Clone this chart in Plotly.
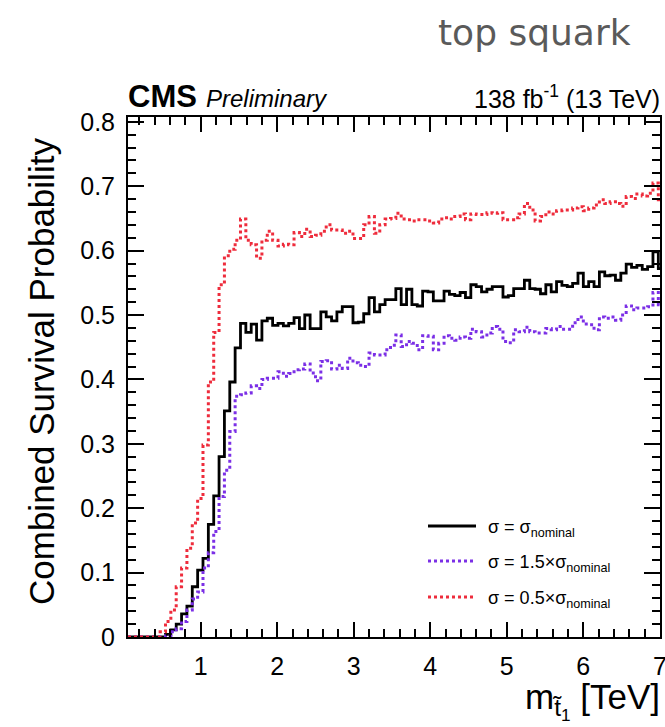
import numpy as np
import plotly.graph_objects as go

# ---- data ----
bin_start = 0.05      # TeV, first bin low edge
bin_width = 0.07      # TeV
n_bins = 100

nominal = [0, 0, 0, 0, 0, 0, 0, 0.004, 0.011, 0.020,
           0.036, 0.048, 0.078, 0.104, 0.122, 0.175, 0.219, 0.280, 0.351, 0.396,
           0.449, 0.487, 0.473, 0.486, 0.461, 0.491, 0.495, 0.484, 0.487, 0.483,
           0.487, 0.496, 0.479, 0.500, 0.479, 0.479, 0.505, 0.497, 0.491, 0.505,
           0.513, 0.513, 0.488, 0.489, 0.502, 0.527, 0.505, 0.516, 0.524, 0.524,
           0.541, 0.516, 0.540, 0.516, 0.514, 0.537, 0.536, 0.522, 0.522, 0.537,
           0.532, 0.530, 0.535, 0.527, 0.547, 0.544, 0.536, 0.540, 0.544, 0.544,
           0.528, 0.530, 0.541, 0.541, 0.554, 0.541, 0.540, 0.533, 0.547, 0.536,
           0.552, 0.546, 0.544, 0.549, 0.565, 0.544, 0.552, 0.544, 0.567, 0.561,
           0.562, 0.554, 0.565, 0.579, 0.574, 0.577, 0.571, 0.575, 0.598, 0.572]

x1p5 = [0, 0, 0, 0, 0, 0, 0, 0.002, 0.008, 0.013,
        0.024, 0.042, 0.059, 0.070, 0.107, 0.131, 0.164, 0.218, 0.259, 0.319,
        0.374, 0.376, 0.379, 0.390, 0.386, 0.400, 0.402, 0.402, 0.412, 0.405,
        0.409, 0.415, 0.416, 0.424, 0.410, 0.398, 0.428, 0.429, 0.416, 0.422,
        0.417, 0.433, 0.426, 0.422, 0.420, 0.441, 0.438, 0.438, 0.446, 0.453,
        0.469, 0.451, 0.459, 0.456, 0.446, 0.468, 0.467, 0.446, 0.456, 0.468,
        0.464, 0.461, 0.466, 0.464, 0.478, 0.474, 0.466, 0.472, 0.482, 0.478,
        0.459, 0.457, 0.477, 0.474, 0.481, 0.474, 0.472, 0.472, 0.479, 0.477,
        0.482, 0.478, 0.478, 0.488, 0.497, 0.486, 0.485, 0.477, 0.497, 0.495,
        0.497, 0.492, 0.500, 0.514, 0.508, 0.511, 0.511, 0.513, 0.535, 0.516]

x0p5 = [0, 0, 0, 0, 0, 0, 0.008, 0.024, 0.042, 0.078,
        0.107, 0.138, 0.177, 0.215, 0.298, 0.396, 0.473, 0.547, 0.592, 0.602,
        0.616, 0.649, 0.616, 0.609, 0.588, 0.616, 0.630, 0.616, 0.607, 0.610,
        0.609, 0.628, 0.622, 0.633, 0.622, 0.624, 0.630, 0.640, 0.632, 0.632,
        0.627, 0.630, 0.619, 0.619, 0.640, 0.653, 0.627, 0.640, 0.649, 0.650,
        0.658, 0.649, 0.648, 0.646, 0.648, 0.648, 0.646, 0.643, 0.649, 0.651,
        0.649, 0.653, 0.657, 0.648, 0.657, 0.656, 0.656, 0.659, 0.658, 0.659,
        0.648, 0.648, 0.651, 0.657, 0.673, 0.663, 0.646, 0.653, 0.660, 0.657,
        0.662, 0.663, 0.663, 0.666, 0.668, 0.662, 0.666, 0.671, 0.679, 0.673,
        0.676, 0.673, 0.669, 0.684, 0.681, 0.688, 0.685, 0.689, 0.705, 0.679]

x_tick_vals = [1, 2, 3, 4, 5, 6, 7]
x_tick_text = ["1", "2", "3", "4", "5", "6", "7"]
y_tick_vals = [0, 0.1, 0.2, 0.3, 0.4, 0.5, 0.6, 0.7, 0.8]
y_tick_text = ["0", "0.1", "0.2", "0.3", "0.4", "0.5", "0.6", "0.7", "0.8"]

series = [
    ("σ = σ<sub>nominal</sub>", nominal, "#000000", "solid"),
    ("σ = 1.5×σ<sub>nominal</sub>", x1p5, "#7b2fe6", "dot"),
    ("σ = 0.5×σ<sub>nominal</sub>", x0p5, "#ee2c3c", "dot"),
]

edges = np.round(bin_start + bin_width * np.arange(n_bins + 1), 4)

FONT = "Liberation Sans"
fig = go.Figure()
for name, vals, col, dash in series:
    yv = list(vals) + [vals[-1]]
    fig.add_trace(go.Scatter(
        x=edges, y=yv, mode="lines", name=name,
        line=dict(color=col, width=3 if dash == "dot" else 2.8, dash=dash, shape="hv"),
        showlegend=False, hoverinfo="skip"))

# ---- layout ----
L, R, T, B = 128, 5, 117, 90
W, H = 665, 727
pw, ph = W - L - R, H - T - B

def px2paper(px, py):
    return (px - L) / pw, (H - B - py) / ph

axis_common = dict(
    showline=True, linecolor="black", linewidth=2, mirror="allticks",
    ticks="inside", tickcolor="black", tickwidth=1.5,
    showgrid=False, zeroline=False, ticklabeloverflow="allow",
    tickfont=dict(family=FONT, size=25, color="black"),
)
fig.update_xaxes(
    range=[0.05, 7.002], tickmode="array", tickvals=x_tick_vals, ticktext=x_tick_text,
    ticklen=15, ticklabelstandoff=6,
    minor=dict(ticks="inside", ticklen=8, dtick=0.2, tick0=0, tickcolor="black", tickwidth=1.5, showgrid=False),
    **axis_common)
fig.update_yaxes(
    range=[0, 0.8075], tickmode="array", tickvals=y_tick_vals, ticktext=y_tick_text,
    ticklen=16, ticklabelstandoff=6,
    minor=dict(ticks="inside", ticklen=8, dtick=0.02, tick0=0, tickcolor="black", tickwidth=1.5, showgrid=False),
    **axis_common)

annotations = []
# axis titles
annotations.append(dict(text="Combined Survival Probability", textangle=-90,
                        x=px2paper(41, 0)[0], y=px2paper(0, 372)[1], xref="paper", yref="paper",
                        xanchor="center", yanchor="middle", showarrow=False,
                        font=dict(family=FONT, size=35, color="black")))
annotations.append(dict(text="m<sub>t̃<sub>1</sub></sub> [TeV]",
                        x=px2paper(662, 0)[0], y=px2paper(0, 701)[1], xref="paper", yref="paper",
                        xanchor="right", yanchor="middle", showarrow=False,
                        font=dict(family=FONT, size=35, color="black")))
# header texts
annotations.append(dict(text="<b>CMS</b>", x=px2paper(126, 0)[0], y=px2paper(0, 97)[1],
                        xref="paper", yref="paper", xanchor="left", yanchor="middle", showarrow=False,
                        font=dict(family=FONT, size=31, color="black")))
annotations.append(dict(text="<i>Preliminary</i>", x=px2paper(204, 0)[0], y=px2paper(0, 99)[1],
                        xref="paper", yref="paper", xanchor="left", yanchor="middle", showarrow=False,
                        font=dict(family=FONT, size=24, color="black")))
annotations.append(dict(text="138 fb<sup>-1</sup> (13 TeV)", x=px2paper(662, 0)[0], y=px2paper(0, 97)[1],
                        xref="paper", yref="paper", xanchor="right", yanchor="middle", showarrow=False,
                        font=dict(family=FONT, size=25, color="black")))
annotations.append(dict(text="top squark", x=px2paper(633, 0)[0], y=px2paper(0, 33)[1],
                        xref="paper", yref="paper", xanchor="right", yanchor="middle", showarrow=False,
                        font=dict(family="DejaVu Sans", size=36, color="#5a5a5a")))

# legend (drawn manually to match layout)
shapes = []
leg_rows = [526, 561, 597]
for (name, vals, col, dash), py in zip(series, leg_rows):
    x0, yp = px2paper(428, py)
    x1, _ = px2paper(476, py)
    shapes.append(dict(type="line", xref="paper", yref="paper", x0=x0, x1=x1, y0=yp, y1=yp,
                       line=dict(color=col, width=3, dash=dash)))
    annotations.append(dict(text=name, x=px2paper(486, 0)[0], y=px2paper(0, py + 2)[1],
                            xref="paper", yref="paper", xanchor="left", yanchor="middle",
                            showarrow=False, font=dict(family=FONT, size=18, color="black")))

fig.update_layout(
    width=W, height=H, margin=dict(l=L, r=R, t=T, b=B, autoexpand=False),
    paper_bgcolor="white", plot_bgcolor="white",
    annotations=annotations, shapes=shapes, showlegend=False,
)

fig.write_html("out.html")
